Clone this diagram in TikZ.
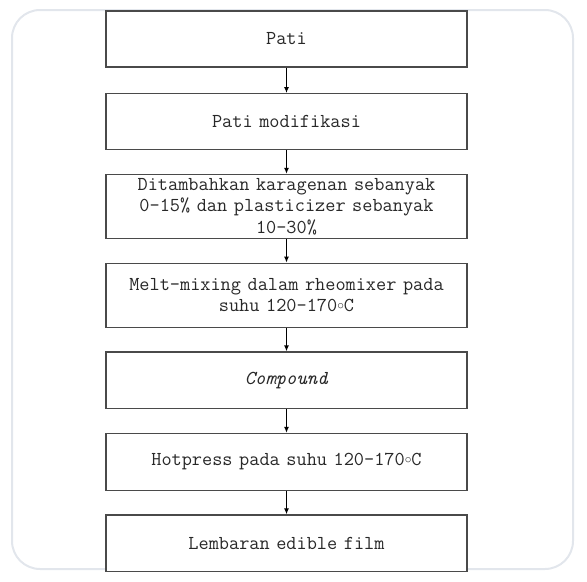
\documentclass[tikz,border=0pt]{standalone}
\usepackage{xcolor}
\usepackage{fontspec}
\setmonofont{Latin Modern Mono}
\usepackage{tikz}
\usetikzlibrary{arrows.meta, positioning}
\definecolor{boxline}{RGB}{74,74,74}
\definecolor{boxtext}{RGB}{40,40,40}
\definecolor{frameline}{RGB}{226,230,236}
\newcommand{\degc}{\raisebox{0.3ex}{$\scriptstyle\circ$}C}
\tikzset{
    stepbox/.style={rectangle, draw=boxline, line width=1pt, fill=white,
                    text=boxtext, align=center, inner sep=0pt,
                    minimum width=270.75pt, text width=264pt,
                    minimum height=42pt,
                    font=\ttfamily\fontsize{14.8}{16.2}\selectfont},
    tallbox/.style={stepbox, minimum height=48pt},
    flow/.style={-{Latex[length=4.5pt, width=3.8pt]}, line width=0.9pt, draw=black},
}

\begin{document}
\begin{tikzpicture}[x=0.75pt, y=-0.75pt, node distance=17.6pt]
        \useasboundingbox (0,0) rectangle (587,582);
        \draw[frameline, line width=1.5pt, rounded corners=21pt] (12,10) rectangle (573,569);
        \node[stepbox] (pati) at (286.5,39) {Pati};
        \node[stepbox, below=19pt of pati] (mod) {Pati modifikasi};
        \node[tallbox, below=of mod] (tambah) {Ditambahkan karagenan sebanyak\\0-15\% dan plasticizer sebanyak\\10-30\%};
        \node[tallbox, below=of tambah] (melt) {Melt-mixing dalam rheomixer pada\\suhu 120-170\degc};
        \node[stepbox, minimum height=42.5pt, below=of melt] (comp) {\textit{Compound}};
        \node[stepbox, minimum height=42.5pt, below=of comp] (hot) {Hotpress pada suhu 120-170\degc};
        \node[stepbox, minimum height=42.5pt, below=of hot] (film) {Lembaran edible film};
        \draw[flow] (pati) -- (mod);
        \draw[flow] (mod) -- (tambah);
        \draw[flow] (tambah) -- (melt);
        \draw[flow] (melt) -- (comp);
        \draw[flow] (comp) -- (hot);
        \draw[flow] (hot) -- (film);
    \end{tikzpicture}
\end{document}
